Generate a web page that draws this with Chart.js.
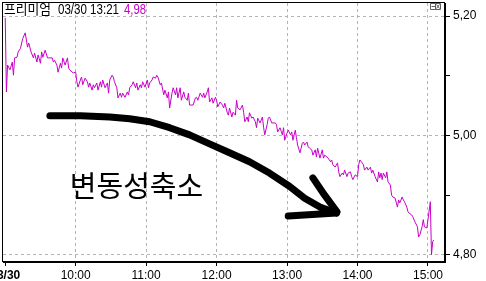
<!DOCTYPE html>
<html lang="ko">
<head>
<meta charset="UTF-8">
<title>프리미엄</title>
<script src="https://cdn.jsdelivr.net/npm/chart.js"></script>
<style>
  body { margin: 0; background: #fff; }
  #wrap { width: 486px; height: 281px; position: relative; }
</style>
</head>
<body>
<div id="wrap"><canvas id="premiumChart"></canvas></div>
<script>
// minutes after 09:00 on 03/30
const times = [
  0,1,2,4,6,7,8,10,11,13,14,15,17,18,19,20,22,24,25,27,28,30,31,32,34,36,37,40,41,42,44,45,47,48,49,51,53,54,55,57,58,60,61,62,
  64,65,66,68,70,71,72,74,75,76,78,79,81,82,83,85,87,88,89,91,92,93,95,96,98,99,100,102,104,105,106,108,109,111,112,113,115,116,117,119,121,122,123,
  125,126,128,129,130,132,133,135,136,138,139,140,142,143,145,146,147,149,150,152,153,155,156,157,159,160,162,163,164,166,168,169,170,172,173,174,176,177,179,180,181,183,185,186,187,
  189,190,191,193,194,196,197,198,200,202,203,204,206,207,208,210,211,213,214,215,217,219,220,221,223,224,225,227,228,230,231,232,234,236,237,238,240,241,243,244,245,247,248,249,251,253,
  254,255,257,258,259,261,262,264,265,266,268,270,271,272,274,275,277,278,279,281,283,284,285,287,288,289,291,292,294,295,296,298,300,301,302,304,305,306,308,309,311,312,313,315,
  317,318,319,320,321,322,324,325,326,328,329,330,332,334,335,336,338,339,340,342,343,344,346,347,349,351,352,353,355,356,357,359,360,362,363,364,365
];
// premium
const premium = [
  5.197,5.073,5.118,5.110,5.123,5.101,5.130,5.131,5.140,5.146,5.155,5.163,5.172,5.160,5.148,5.155,5.140,5.130,5.138,5.123,5.135,5.121,5.140,5.131,5.143,5.130,5.130,5.130,5.123,5.126,5.118,5.106,5.121,5.113,5.130,5.118,5.130,5.113,5.110,5.106,5.105,5.106,5.090,5.081,
  5.093,5.098,5.085,5.096,5.090,5.081,5.088,5.076,5.085,5.080,5.088,5.076,5.090,5.081,5.093,5.080,5.088,5.071,5.093,5.101,5.098,5.090,5.080,5.063,5.071,5.064,5.071,5.064,5.073,5.068,5.080,5.085,5.090,5.080,5.088,5.076,5.085,5.080,5.090,5.081,5.093,5.080,5.088,
  5.093,5.098,5.096,5.101,5.098,5.085,5.088,5.068,5.076,5.063,5.073,5.046,5.071,5.080,5.068,5.080,5.063,5.080,5.059,5.073,5.064,5.059,5.071,5.051,5.051,5.051,5.063,5.064,5.059,5.071,5.064,5.071,5.063,5.073,5.080,5.056,5.063,5.054,5.064,5.059,5.048,5.056,5.051,5.046,5.054,
  5.039,5.034,5.046,5.031,5.039,5.034,5.059,5.046,5.043,5.051,5.039,5.023,5.031,5.023,5.038,5.029,5.031,5.023,5.013,5.029,5.021,5.031,5.014,5.001,5.018,5.029,5.031,5.021,5.021,5.021,5.018,5.006,5.013,5.001,5.013,4.992,5.004,5.009,5.001,5.006,4.992,5.009,4.996,4.984,4.971,4.987,
  4.989,4.984,4.989,4.981,4.979,4.976,4.967,4.976,4.964,4.979,4.962,4.976,4.962,4.967,4.964,4.962,4.956,4.959,4.951,4.947,4.954,4.939,4.931,4.937,4.934,4.942,4.931,4.937,4.939,4.931,4.926,4.934,4.931,4.951,4.959,4.954,4.951,4.942,4.947,4.942,4.947,4.937,4.942,4.931,
  4.922,4.939,4.929,4.937,4.926,4.937,4.929,4.939,4.922,4.917,4.900,4.897,4.895,4.880,4.892,4.887,4.897,4.892,4.889,4.880,4.872,4.870,4.867,4.864,4.855,4.847,4.830,4.833,4.847,4.859,4.847,4.845,4.859,4.889,4.800,4.822,4.825
];

const hourTicks = [0, 60, 120, 180, 240, 300, 360];
const hourLabels = ['03/30', '10:00', '11:00', '12:00', '13:00', '14:00', '15:00'];
const yTicks = [4.8, 4.9, 5.0, 5.1, 5.2];
const yLabels = ['4,80', '', '5,00', '', '5,20'];

// hand drawn arrow + note, in chart units
const arrowTimes = [38, 64, 89, 106, 123, 140, 157, 174, 191, 208, 225, 242, 255, 268, 282];
const arrowValues = [5.033, 5.033, 5.031, 5.028, 5.023, 5.013, 5.001, 4.986, 4.971, 4.956, 4.937, 4.915, 4.895, 4.880, 4.870];
const headLowTimes = [241, 282];
const headLowValues = [4.865, 4.870];
const headUpTimes = [262, 272, 282.5];
const headUpValues = [4.929, 4.900, 4.872];
const noteText = '변동성축소';
const noteTime = 55, noteValue = 4.915;

const header = ['프리미엄', '03/30 13:21', '4,98'];

const sans = "'Liberation Sans', Arial, sans-serif";

const overlay = {
  id: 'overlay',
  afterDatasetsDraw(chart) {
    const { ctx, chartArea: a, scales: { x, y } } = chart;
    ctx.save();
    // frame
    ctx.strokeStyle = '#000';
    ctx.lineWidth = 1;
    ctx.strokeRect(a.left - 0.5, a.top - 0.5, a.right - a.left, a.bottom - a.top);

    // arrow
    ctx.lineWidth = 7;
    ctx.lineCap = 'round';
    ctx.lineJoin = 'round';
    const path = (ts, vs) => {
      ctx.beginPath();
      ts.forEach((t, i) => {
        const px = x.getPixelForValue(t), py = y.getPixelForValue(vs[i]);
        if (i) ctx.lineTo(px, py); else ctx.moveTo(px, py);
      });
      ctx.stroke();
    };
    path(arrowTimes, arrowValues);
    path(headLowTimes, headLowValues);
    path(headUpTimes, headUpValues);

    ctx.fillStyle = '#000';
    ctx.font = "29px 'Noto Sans CJK KR'";
    ctx.textBaseline = 'middle';
    ctx.fillText(noteText, x.getPixelForValue(noteTime), y.getPixelForValue(noteValue));

    // header
    ctx.textBaseline = 'alphabetic';
    ctx.font = "14px 'Noto Sans CJK KR'";
    ctx.fillText(header[0], a.left + 1, 14, 47);
    ctx.font = '14px ' + sans;
    ctx.fillText(header[1], 58, 14, 61);
    ctx.fillStyle = '#c800c8';
    ctx.fillText(header[2], 124, 14, 22);

    // small window buttons
    ctx.strokeStyle = '#606060';
    ctx.lineWidth = 1;
    ctx.lineCap = 'butt';
    ctx.strokeRect(430.5, 3.5, 5, 6);
    ctx.strokeRect(435.5, 3.5, 5, 6);
    ctx.beginPath();
    ctx.moveTo(431.5, 6.5); ctx.lineTo(435, 6.5);
    ctx.moveTo(436.5, 4.5); ctx.lineTo(439.5, 8.5);
    ctx.moveTo(439.5, 4.5); ctx.lineTo(436.5, 8.5);
    ctx.stroke();
    ctx.restore();
  }
};

new Chart(document.getElementById('premiumChart'), {
  type: 'line',
  data: {
    datasets: [{
      data: times.map((t, i) => ({ x: t, y: premium[i] })),
      borderColor: '#c800c8',
      borderWidth: 1,
      pointRadius: 0,
      tension: 0
    }]
  },
  options: {
    responsive: true,
    maintainAspectRatio: false,
    animation: false,
    events: [],
    layout: { padding: { left: 3, top: 3, right: 0, bottom: 0 } },
    scales: {
      x: {
        type: 'linear',
        min: -1.9,
        max: 374.5,
        afterFit(s) { s.height = 19; s.paddingLeft = 0; s.paddingRight = 0; },
        afterBuildTicks(s) { s.ticks = hourTicks.map(v => ({ value: v })); },
        ticks: {
          callback: (v, i) => hourLabels[i],
          autoSkip: false,
          maxRotation: 0,
          color: '#000',
          padding: 2,
          font: c => ({ family: sans, size: 12, weight: c.index === 0 ? 'bold' : 'normal' })
        },
        grid: {
          color: c => c.index === 0 ? 'rgba(0,0,0,0)' : '#b4b4b4',
          tickColor: '#000',
          tickLength: 4
        },
        border: { color: '#000', dash: [3, 3] }
      },
      y: {
        position: 'right',
        min: 4.788,
        max: 5.222,
        afterFit(s) { s.width = 41; s.paddingTop = 0; s.paddingBottom = 0; },
        afterBuildTicks(s) { s.ticks = yTicks.map(v => ({ value: v })); },
        ticks: {
          callback: (v, i) => yLabels[i],
          autoSkip: false,
          color: '#000',
          padding: 3,
          font: { family: sans, size: 12 }
        },
        grid: {
          color: c => yLabels[c.index] ? '#b4b4b4' : 'rgba(0,0,0,0)',
          tickColor: '#000',
          tickLength: 5
        },
        border: { color: '#000', dash: [3, 3] }
      }
    },
    plugins: {
      legend: { display: false },
      tooltip: { enabled: false }
    }
  },
  plugins: [overlay]
});
</script>
</body>
</html>
